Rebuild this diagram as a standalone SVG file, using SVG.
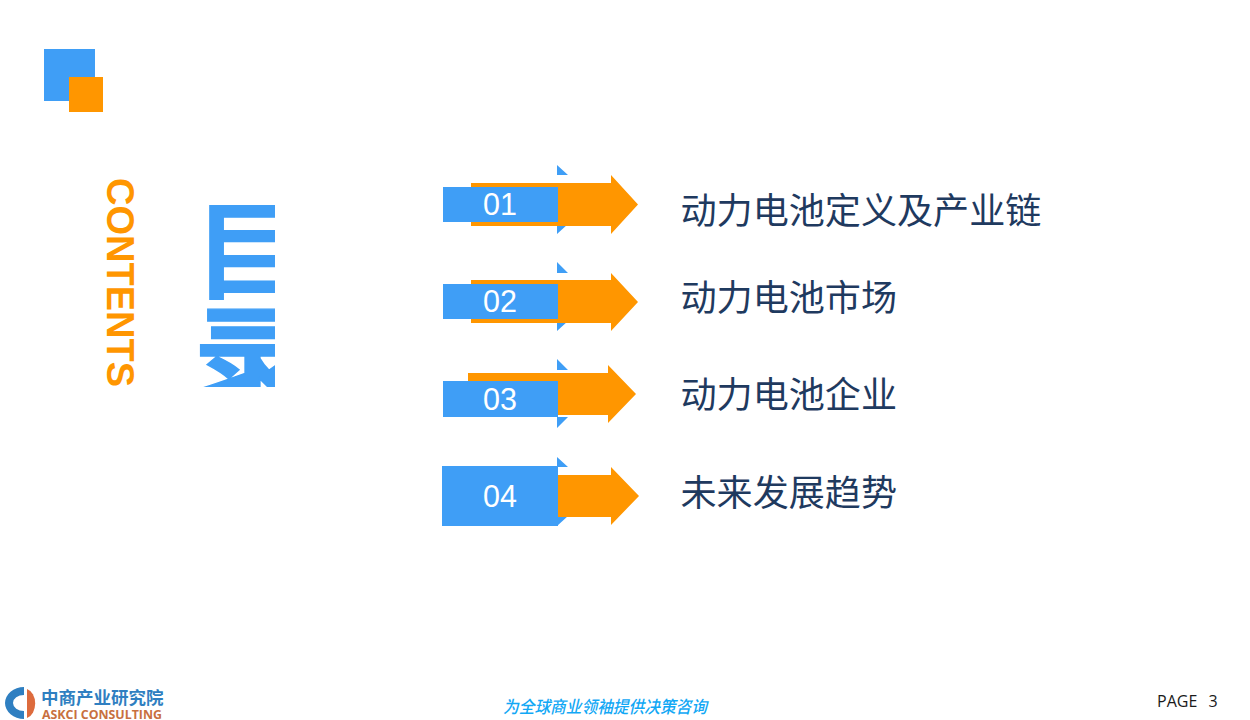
<svg xmlns="http://www.w3.org/2000/svg" width="1250" height="720" viewBox="0 0 1250 720">
<style>
.blue{fill:#3f9ef6}.orange{fill:#ff9600}
.num{font-family:"Liberation Sans",Arial,sans-serif;font-size:30.500px;fill:#fff}
.label{font-family:"Noto Sans CJK SC",sans-serif;font-size:36.100px;fill:#1f3a5f}
</style>
<defs><clipPath id="titleClip"><rect x="190" y="195" width="85" height="192"/></clipPath></defs>
<rect width="1250" height="720" fill="#fff"/>
<g id="corner"><rect class="blue" x="44" y="49" width="51" height="52"/><rect class="orange" x="69" y="77" width="34" height="35"/></g>
<text transform="translate(107,178) rotate(90)" font-family="'Liberation Sans',Arial,sans-serif" font-weight="700" font-size="38" fill="#ff9600" textLength="209" lengthAdjust="spacing">CONTENTS</text>
<g id="title" clip-path="url(#titleClip)" font-family="'Noto Sans CJK SC',sans-serif" font-weight="700" font-size="108" fill="#3f9ef6">
<text transform="translate(192,291) scale(1.13,1)">目</text><text transform="translate(193.500,396) scale(1.1,1)" stroke="#3f9ef6" stroke-width="1.500">录</text></g>
<g id="item1"><path class="blue" d="M557 165L568 175H557ZM557 234L568 224H557Z"/><path class="orange" d="M471 183H611V175L638 204.500L611 234V226H471Z"/><rect class="blue" x="443" y="187" width="115" height="35"/><text class="num" x="483" y="215">01</text><text class="label" x="680.500" y="224">动力电池定义及产业链</text></g>
<g id="item2"><path class="blue" d="M557 262L568 273H557ZM557 331L568 321H557Z"/><path class="orange" d="M471 280H611V273L638 302L611 331V323H471Z"/><rect class="blue" x="443" y="284" width="115" height="35"/><text class="num" x="483" y="312">02</text><text class="label" x="680.500" y="311">动力电池市场</text></g>
<g id="item3"><path class="blue" d="M557 359L568 370H557ZM557 428L568 417H557Z"/><path class="orange" d="M468 373H608V365L636 394L608 423V415H468Z"/><rect class="blue" x="443" y="381" width="115" height="36"/><text class="num" x="483" y="410">03</text><text class="label" x="680.500" y="408">动力电池企业</text></g>
<g id="item4"><path class="blue" d="M557 457L568 467H557ZM557 526L568 516H557Z"/><path class="orange" d="M471 475H611V467L639 496L611 525V517H471Z"/><rect class="blue" x="442" y="466" width="116" height="60"/><text class="num" x="483" y="507">04</text><text class="label" x="680.500" y="506">未来发展趋势</text></g>
<g id="logo"><path fill="#2f7fc1" d="M24 687A19 16 0 0 0 24 719V711A11 8 0 0 1 24 695Z"/><path fill="#dd6b3d" d="M27 689A11 15 0 0 1 27 718Z"/>
<text x="41" y="704" font-family="'Noto Sans CJK SC',sans-serif" font-weight="700" font-size="17.500" fill="#2f7fc1">中商产业研究院</text>
<text x="42" y="719" font-family="'Open Sans',sans-serif" font-weight="700" font-size="12.500" fill="#c8703f" textLength="120" lengthAdjust="spacingAndGlyphs">ASKCI CONSULTING</text></g>
<text x="503" y="713" font-family="'Noto Sans CJK SC',sans-serif" font-style="italic" font-weight="500" font-size="17" fill="#12a8f5" textLength="204" lengthAdjust="spacingAndGlyphs">为全球商业领袖提供决策咨询</text>
<text x="1157" y="707" font-family="'Open Sans',sans-serif" font-size="16" fill="#1a1a1a" style="white-space:pre" word-spacing="1.500">PAGE  3</text>
</svg>
